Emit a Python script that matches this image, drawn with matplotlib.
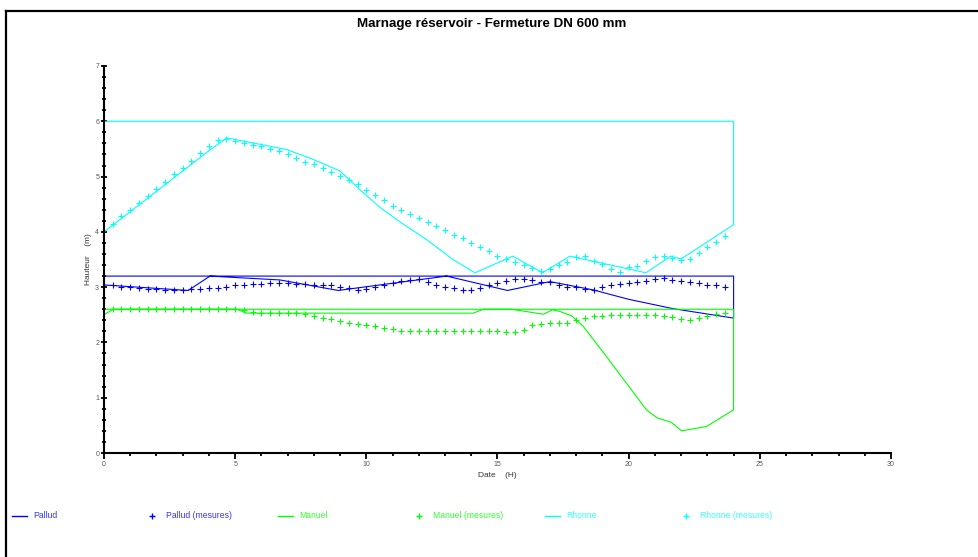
import numpy as np
import matplotlib
matplotlib.use('Agg')
import matplotlib.pyplot as plt
from matplotlib.lines import Line2D
from matplotlib.ticker import MultipleLocator

plt.rcParams['font.family'] = ['Liberation Sans', 'DejaVu Sans']

# courbes calculees (le trace se referme par le haut du reservoir)
pallud_t = [0, 3.21, 4.04, 6.71, 8.93, 13.06, 15.38, 17.0, 18.65, 20.0, 21.7, 24.0, 24.0, 0]
pallud_h = [3.04, 2.94, 3.20, 3.13, 2.94, 3.20, 2.94, 3.10, 2.95, 2.78, 2.61, 2.44, 3.20, 3.20]

manuel_t = [0, 0.35, 5.06, 5.44, 14.08, 14.46, 15.54, 16.75, 17.1, 17.38, 17.83, 18.27, 19.16,
            20.68, 21.07, 21.64, 22.02, 22.97, 24.0, 24.0, 0]
manuel_h = [2.50, 2.60, 2.60, 2.53, 2.53, 2.60, 2.60, 2.51, 2.59, 2.56, 2.48, 2.29, 1.74,
            0.78, 0.64, 0.55, 0.40, 0.48, 0.78, 2.60, 2.60]

rhonne_t = [0, 3.98, 4.68, 6.96, 7.98, 9.0, 9.76, 10.5, 11.28, 12.3, 13.3, 14.14, 15.58, 16.72,
            17.76, 20.66, 21.6, 22.0, 24.0, 24.0, 0]
rhonne_h = [4.00, 5.46, 5.70, 5.49, 5.31, 5.10, 4.76, 4.45, 4.18, 3.86, 3.50, 3.26, 3.56, 3.26,
            3.56, 3.26, 3.56, 3.51, 4.13, 6.00, 6.00]

# mesures toutes les 20 min
mes_t = np.arange(1, 72) / 3.0
pallud_mes = [3.03, 3.00, 3.00, 2.98, 2.97, 2.97, 2.95, 2.94, 2.94, 2.97,
              2.97, 2.98, 2.99, 3.00, 3.03, 3.04, 3.05, 3.06, 3.07, 3.07,
              3.07, 3.06, 3.05, 3.04, 3.03, 3.03, 3.00, 2.98, 2.95, 2.97,
              3.00, 3.04, 3.08, 3.11, 3.13, 3.14, 3.10, 3.04, 3.01, 2.98,
              2.95, 2.95, 2.98, 3.03, 3.07, 3.12, 3.15, 3.15, 3.13, 3.10,
              3.09, 3.04, 3.01, 3.00, 2.97, 2.95, 3.00, 3.03, 3.06, 3.07,
              3.09, 3.12, 3.15, 3.16, 3.13, 3.12, 3.09, 3.07, 3.04, 3.03,
              3.01]
manuel_mes = [2.60, 2.60, 2.60, 2.60, 2.60, 2.60, 2.60, 2.60, 2.60, 2.60,
              2.60, 2.60, 2.60, 2.60, 2.60, 2.58, 2.55, 2.54, 2.53, 2.53,
              2.53, 2.53, 2.51, 2.47, 2.44, 2.42, 2.39, 2.36, 2.34, 2.31,
              2.29, 2.26, 2.24, 2.20, 2.20, 2.20, 2.20, 2.20, 2.20, 2.20,
              2.20, 2.20, 2.20, 2.20, 2.20, 2.19, 2.19, 2.23, 2.32, 2.34,
              2.35, 2.35, 2.36, 2.40, 2.44, 2.47, 2.48, 2.49, 2.50, 2.50,
              2.50, 2.50, 2.49, 2.48, 2.46, 2.43, 2.41, 2.45, 2.48, 2.52,
              2.53]
rhonne_mes = [4.15, 4.28, 4.40, 4.52, 4.64, 4.78, 4.90, 5.04, 5.16, 5.28,
              5.42, 5.55, 5.67, 5.68, 5.64, 5.61, 5.58, 5.55, 5.50, 5.46,
              5.40, 5.34, 5.26, 5.22, 5.16, 5.08, 5.01, 4.93, 4.86, 4.75,
              4.66, 4.57, 4.47, 4.39, 4.33, 4.25, 4.17, 4.11, 4.04, 3.95,
              3.89, 3.80, 3.73, 3.65, 3.57, 3.51, 3.45, 3.40, 3.35, 3.30,
              3.33, 3.40, 3.46, 3.55, 3.56, 3.48, 3.41, 3.32, 3.28, 3.36,
              3.39, 3.47, 3.55, 3.57, 3.53, 3.50, 3.51, 3.61, 3.72, 3.82,
              3.92]

BLUE = '#0000ff'
GREEN = '#00ff00'
CYAN = '#00ffff'

series = [
    ('Pallud', pallud_t, pallud_h, BLUE),
    ('Manuel', manuel_t, manuel_h, GREEN),
    ('Rhonne', rhonne_t, rhonne_h, CYAN),
]
mesures = [
    ('Pallud (mesures)', pallud_mes, BLUE),
    ('Manuel (mesures)', manuel_mes, GREEN),
    ('Rhonne (mesures)', rhonne_mes, CYAN),
]

fig = plt.figure(figsize=(9.79, 5.57), dpi=100)
ax = fig.add_axes([104 / 979, 1 - 453 / 557, (891 - 104) / 979, (453 - 66) / 557])

for name, t, h, c in series:
    ax.plot(t, h, color=c, lw=0.8)
for name, h, c in mesures:
    ax.plot(mes_t, h, ls='none', marker='+', ms=5, mew=0.8, color=c)

ax.set_xlim(0, 30)
ax.set_ylim(0, 7)
ax.spines['top'].set_visible(False)
ax.spines['right'].set_visible(False)
ax.spines['left'].set_linewidth(1.5)
ax.spines['bottom'].set_linewidth(1.5)
ax.xaxis.set_major_locator(MultipleLocator(5))
ax.xaxis.set_minor_locator(MultipleLocator(1))
ax.yaxis.set_major_locator(MultipleLocator(1))
ax.yaxis.set_minor_locator(MultipleLocator(0.2))
ax.tick_params(axis='y', which='major', direction='inout', length=5, width=1.3,
               labelsize=5, labelcolor='#555555', pad=1)
ax.tick_params(axis='y', which='minor', direction='inout', length=3.5, width=1.3)
ax.tick_params(axis='x', which='major', direction='out', length=4, width=1.3,
               labelsize=5, labelcolor='#555555', pad=1.5)
ax.tick_params(axis='x', which='minor', direction='out', length=2.5, width=1.3)
ax.set_xlabel('Date    (H)', fontsize=6, color='#333333', labelpad=3)
ax.set_ylabel('Hauteur    (m)', fontsize=6, color='#333333', labelpad=2)
ax.set_facecolor('none')

fig.text(492 / 979, 1 - 24 / 557, 'Marnage r\u00e9servoir - Fermeture DN 600 mm',
         ha='center', va='center', fontsize=9.6, fontweight='bold')

# cadre
fig.add_artist(Line2D([6.5 / 979, 1.0], [1 - 11 / 557, 1 - 11 / 557], color='black', lw=1.6))
fig.add_artist(Line2D([6.5 / 979, 6.5 / 979], [0, 1 - 11 / 557], color='black', lw=1.6))

# legende
leg = fig.add_axes([0, 0, 1, 1])
leg.set_xlim(0, 979)
leg.set_ylim(557, 0)
leg.axis('off')
leg_items = [
    ('Pallud', BLUE, 'line', 12),
    ('Pallud (mesures)', BLUE, 'plus', 152),
    ('Manuel', GREEN, 'line', 278),
    ('Manuel (mesures)', GREEN, 'plus', 419),
    ('Rhonne', CYAN, 'line', 545),
    ('Rhonne (mesures)', CYAN, 'plus', 686),
]
ly = 516
for label, c, kind, x0 in leg_items:
    if kind == 'line':
        leg.plot([x0, x0 + 15], [ly, ly], color=c, lw=1.0)
        tx = x0 + 21
    else:
        leg.plot([x0], [ly], marker='+', ms=5, mew=1.0, color=c)
        tx = x0 + 14
    leg.text(tx, ly, label, color=c, fontsize=6.2, va='center', ha='left', alpha=0.8)

fig.savefig('out.png', dpi=100)
